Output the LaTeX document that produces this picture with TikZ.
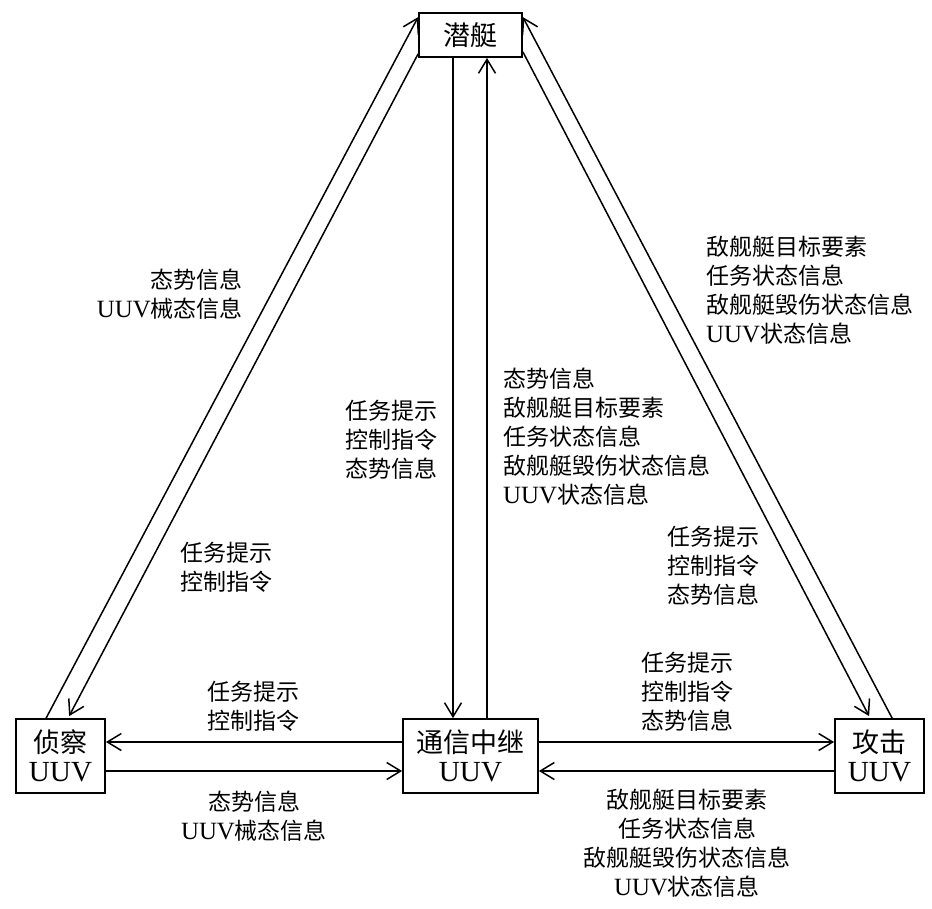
\documentclass[tikz,border=0pt]{standalone}
\usepackage{fontspec}
\setmainfont{Noto Sans CJK SC}
\newfontfamily\lat{Liberation Serif}[Scale=1.08]
\usetikzlibrary{arrows.meta,calc}
\tikzset{
  unit/.style={draw, line width=1.8pt, inner sep=0pt, align=center,
    font=\fontsize{27}{32}\selectfont},
  conn/.style={line width=1.5pt, -{Straight Barb[length=14pt,width=17pt,line width=1.5pt]}},
  lbl/.style={inner sep=0pt, font=\fontsize{23}{29}\selectfont}
}
\begin{document}
\begin{tikzpicture}[x=1pt,y=-1pt]
\useasboundingbox (0,0) rectangle (932,908);
% boxes
\node[unit, minimum width=103pt, minimum height=44pt] (sub) at (470.5,35) {潜艇};
\node[unit, minimum width=89pt, minimum height=74pt] (rec) at (60.5,756) {侦察\\[-3pt]{\lat UUV}};
\node[unit, minimum width=135pt, minimum height=74pt] (rel) at (470.5,756) {通信中继\\[-3pt]{\lat UUV}};
\node[unit, minimum width=89pt, minimum height=74pt] (atk) at (879.5,756) {攻击\\[-3pt]{\lat UUV}};
% left diagonals
\draw[conn] ([xshift=31pt]rec.north west) -- ([yshift=-5pt]sub.north west);
\draw[conn] ([yshift=4pt]sub.south west) -- ([xshift=54pt,yshift=2pt]rec.north west);
% right diagonals
\draw[conn] ([xshift=58pt]atk.north west) -- ([yshift=-5pt]sub.north east);
\draw[conn] ([yshift=6pt]sub.south east) -- ([xshift=35pt,yshift=2pt]atk.north west);
% verticals
\draw[conn] ([xshift=-17.5pt]sub.south) -- ([xshift=-17.5pt]rel.north);
\draw[conn] ([xshift=16.5pt]rel.north) -- ([xshift=16.5pt]sub.south);
% horizontals
\draw[conn] ([yshift=14pt]rel.west) -- ([yshift=14pt]rec.east);
\draw[conn] ([yshift=-15pt]rec.east) -- ([yshift=-15pt]rel.west);
\draw[conn] ([yshift=14pt]rel.east) -- ([yshift=14pt]atk.west);
\draw[conn] ([yshift=-15pt]atk.west) -- ([yshift=-15pt]rel.east);
% labels
\node[lbl, align=right, anchor=east] (l1) at (243,294) {态势信息\\{\lat UUV}械态信息};
\node[lbl, align=left, anchor=west] (l2) at (180,567) {任务提示\\控制指令};
\node[lbl, align=left, anchor=west] (c1) at (345,440) {任务提示\\控制指令\\态势信息};
\node[lbl, align=left, anchor=west] (c2) at (503,437) {态势信息\\敌舰艇目标要素\\任务状态信息\\敌舰艇毁伤状态信息\\{\lat UUV}状态信息};
\node[lbl, align=left, anchor=west] (r1) at (706,290) {敌舰艇目标要素\\任务状态信息\\敌舰艇毁伤状态信息\\{\lat UUV}状态信息};
\node[lbl, align=left, anchor=west] (r2) at (667,566) {任务提示\\控制指令\\态势信息};
\node[lbl, align=center] (h1) at (253,706) {任务提示\\控制指令};
\node[lbl, align=center] (h2) at (254,816) {态势信息\\{\lat UUV}械态信息};
\node[lbl, align=center] (h3) at (687,692) {任务提示\\控制指令\\态势信息};
\node[lbl, align=center] (h4) at (687,843) {敌舰艇目标要素\\任务状态信息\\敌舰艇毁伤状态信息\\{\lat UUV}状态信息};
\end{tikzpicture}
\end{document}
